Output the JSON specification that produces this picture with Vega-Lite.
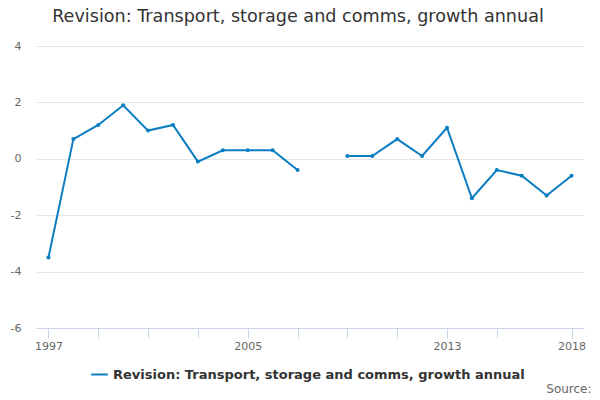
{
  "$schema": "https://vega.github.io/schema/vega-lite/v6.json",
  "padding": {"left": 10, "top": 8, "right": 10, "bottom": 4},
  "background": "white",
  "title": {
    "text": "Source:",
    "orient": "bottom",
    "anchor": "end",
    "font": "DejaVu Sans",
    "fontSize": 12,
    "fontWeight": "normal",
    "color": "#666666",
    "offset": 2,
    "dx": 6
  },
  "config": {
    "view": {"stroke": null},
    "font": "DejaVu Sans"
  },
  "vconcat": [
    {
      "title": {
        "text": "Revision: Transport, storage and comms, growth annual",
        "anchor": "middle",
        "font": "DejaVu Sans",
        "fontSize": 17.6,
        "fontWeight": "normal",
        "color": "#333333",
        "offset": 14,
        "dx": -12
      },
      "width": 548,
      "height": 282,
      "data": {
        "values": [
          {"year": 1997, "value": -3.5},
          {"year": 1998, "value": 0.7},
          {"year": 1999, "value": 1.2},
          {"year": 2000, "value": 1.9},
          {"year": 2001, "value": 1.0},
          {"year": 2002, "value": 1.2},
          {"year": 2003, "value": -0.1},
          {"year": 2004, "value": 0.3},
          {"year": 2005, "value": 0.3},
          {"year": 2006, "value": 0.3},
          {"year": 2007, "value": -0.4},
          {"year": 2008, "value": null},
          {"year": 2009, "value": 0.1},
          {"year": 2010, "value": 0.1},
          {"year": 2011, "value": 0.7},
          {"year": 2012, "value": 0.1},
          {"year": 2013, "value": 1.1},
          {"year": 2014, "value": -1.4},
          {"year": 2015, "value": -0.4},
          {"year": 2016, "value": -0.6},
          {"year": 2017, "value": -1.3},
          {"year": 2018, "value": -0.6}
        ]
      },
      "mark": {
        "type": "line",
        "strokeWidth": 2,
        "invalid": "break-paths-show-domains",
        "point": {"filled": true, "size": 16}
      },
      "encoding": {
        "x": {
          "field": "year",
          "type": "quantitative",
          "scale": {"domain": [1996.5, 2018.5], "nice": false, "zero": false},
          "axis": {
            "title": null,
            "values": [1997, 1999, 2001, 2003, 2005, 2007, 2009, 2011, 2013, 2015, 2018],
            "format": "d",
            "labelExpr": "indexof([1997, 2005, 2013, 2018], datum.value) >= 0 ? datum.label : ''",
            "grid": false,
            "domainColor": "#ccd6eb",
            "tickColor": "#ccd6eb",
            "tickSize": 10,
            "labelPadding": 2,
            "labelFontSize": 11,
            "labelColor": "#666666",
            "labelFlush": false,
            "labelOverlap": false
          }
        },
        "y": {
          "field": "value",
          "type": "quantitative",
          "scale": {"domain": [-6, 4], "nice": false},
          "axis": {
            "title": null,
            "values": [-6, -4, -2, 0, 2, 4],
            "labelExpr": "replace(datum.label, '\u2212', '-')",
            "domain": false,
            "ticks": false,
            "gridColor": "#e6e6e6",
            "labelPadding": 15,
            "labelFontSize": 11,
            "labelColor": "#666666"
          }
        },
        "color": {
          "datum": "Revision: Transport, storage and comms, growth annual",
          "type": "nominal",
          "scale": {"range": ["#0b7dc1"]},
          "legend": {
            "title": null,
            "orient": "none",
            "legendX": 54,
            "legendY": 319,
            "direction": "horizontal",
            "symbolType": "stroke",
            "symbolStrokeWidth": 2,
            "symbolSize": 280,
            "labelFontSize": 13,
            "labelFontWeight": "bold",
            "labelColor": "#333333",
            "labelLimit": 500
          }
        }
      }
    }
  ]
}
